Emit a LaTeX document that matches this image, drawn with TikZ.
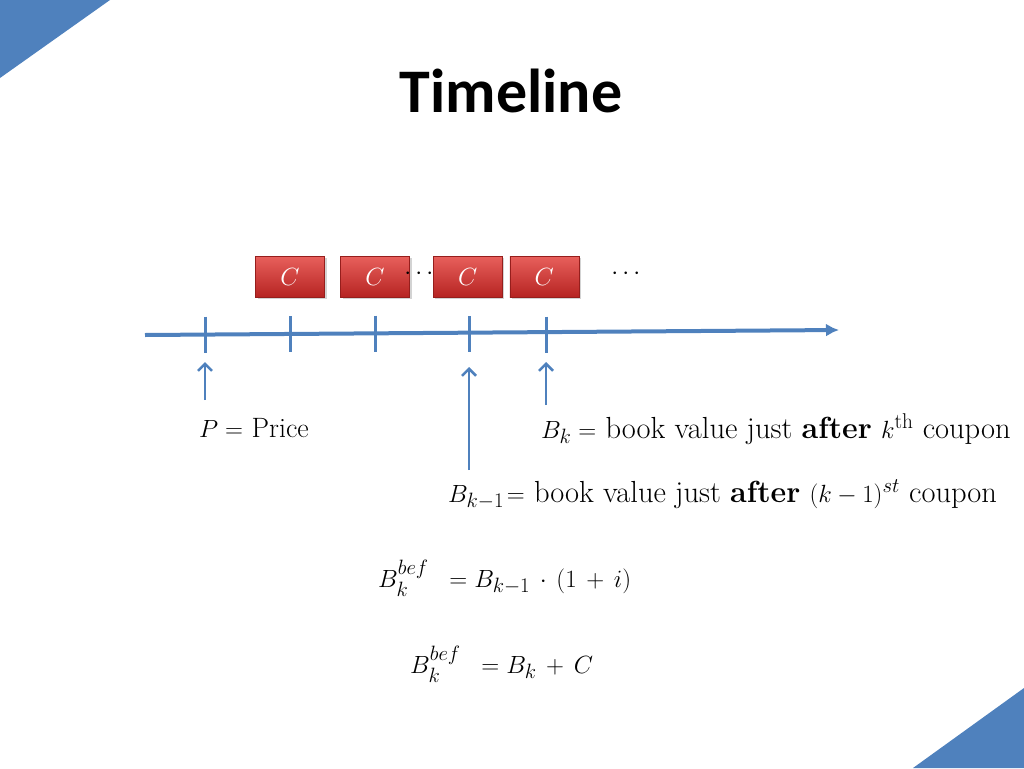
\documentclass[tikz,border=0pt]{standalone}
\usepackage{amsmath}
\usepackage{fontspec}
\newfontfamily\titlefont{Carlito}
\usetikzlibrary{arrows,arrows.meta,shadows}
\usetikzlibrary{positioning}
\definecolor{axisblue}{RGB}{79,129,189}
\definecolor{redtop}{RGB}{232,96,92}
\definecolor{redbottom}{RGB}{182,36,34}
\definecolor{rededge}{RGB}{150,30,28}
\newcommand{\widebin}{\medmuskip=7mu\relax}
\tikzstyle{coupon} = [rectangle, minimum width=69pt, minimum height=41pt, draw=rededge, top color=redtop, bottom color=redbottom, drop shadow={opacity=0.35}, text=white, font=\fontsize{27}{30}\selectfont]
\tikzstyle{axis} = [axisblue, line width=4pt, -{Latex[length=13pt,width=13pt]}]
\tikzstyle{tickmark} = [axisblue, line width=3pt]
\tikzstyle{arrow} = [axisblue, line width=2.5pt, -{Straight Barb[length=7pt,width=14pt]}]
\tikzstyle{label} = [anchor=base west, inner sep=0pt, font=\fontsize{28}{32}\selectfont]
\tikzstyle{widelabel} = [anchor=base west, inner sep=0pt, font=\fontsize{30.5}{34}\selectfont]

\begin{document}
\begin{tikzpicture}[x=1pt, y=-1pt]
    \useasboundingbox (0,0) rectangle (1024,768);
    % corner triangles
    \fill[axisblue] (0,0) -- (110,0) -- (0,78) -- cycle;
    \fill[axisblue] (1024,688) -- (1024,768) -- (913,768) -- cycle;
    \node (title) [anchor=base, inner sep=0pt, font=\titlefont\bfseries\fontsize{62}{70}\selectfont] at (511,112) {Timeline};
    % timeline
    \coordinate (axL) at (145,335);
    \coordinate (axR) at (839,330);
    \draw [axis] (axL) -- (axR);
    \coordinate (t0) at (205,334.5);
    \coordinate (t1) at (290,334);
    \coordinate (t2) at (375,333.5);
    \coordinate (t3) at (469,333);
    \coordinate (t4) at (546,332.5);
    \draw [tickmark] ([yshift=18pt]t0) -- ([yshift=-18pt]t0);
    \draw [tickmark] ([yshift=18pt]t1) -- ([yshift=-18pt]t1);
    \draw [tickmark] ([yshift=18pt]t2) -- ([yshift=-18pt]t2);
    \draw [tickmark] ([yshift=17pt]t3) -- ([yshift=-19pt]t3);
    \draw [tickmark] ([yshift=16pt]t4) -- ([yshift=-20pt]t4);
    % coupons
    \node (c1) [coupon] at (290,276.5) {$C$};
    \node (c2) [coupon, right=15.7pt of c1] {$C$};
    \node (c3) [coupon, right=23.2pt of c2] {$C$};
    \node (c4) [coupon, right=7.2pt of c3] {$C$};
    \node (dots1) [font=\fontsize{26}{30}\selectfont] at (421,274) {$\cdots$};
    \node (dots2) [font=\fontsize{26}{30}\selectfont] at (628,274) {$\cdots$};
    % arrows
    \coordinate (a0) at (205,400);
    \coordinate (e0) at (205,362);
    \coordinate (a3) at (469,470);
    \coordinate (e3) at (469,367);
    \coordinate (a4) at (546,405);
    \coordinate (e4) at (546,362);
    \draw [arrow] (a0) -- (e0);
    \draw [arrow] (a3) -- (e3);
    \draw [arrow] (a4) -- (e4);
    % labels
    \node (price) [label] at (199,437) {$P=$ Price};
    \node (bk) [widelabel] at (541,438) {$B_k=$ book value just \textbf{after} $k^{\text{th}}$ coupon};
    \node (bkm) [widelabel] at (448,502) {$B_{k-1}\!=$ book value just \textbf{after} $(k-1)^{st}$ coupon};
    \node (eq1) [label] at (378,587) {$\widebin B_k^{bef}\;\;=B_{k-1}\cdot(1+i)$};
    \node (eq2) [label] at (410,673) {$\widebin B_k^{bef}\;\;=B_k+C$};
\end{tikzpicture}
\end{document}
